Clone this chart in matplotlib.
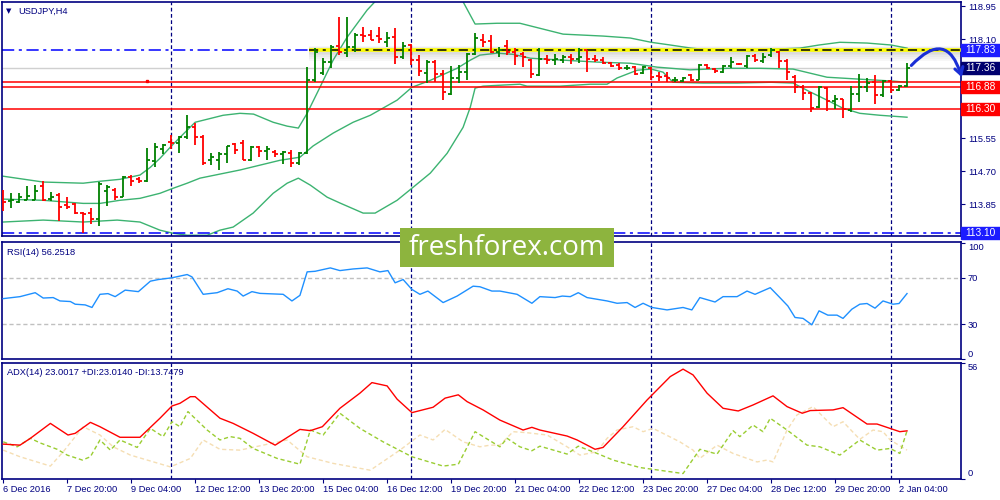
import matplotlib
matplotlib.use("Agg")
import matplotlib.pyplot as plt
import matplotlib.transforms as mtransforms
from matplotlib.patches import Rectangle
import numpy as np

# ---- price bars (USDJPY H4) ----
opens = [114.00, 113.93, 113.90, 113.96, 113.96, 114.31, 113.98, 114.09, 113.82, 113.85,
         113.61, 113.61, 113.46, 114.19, 114.21, 114.04, 114.54, 114.49, 114.45, 114.96,
         115.28, 115.45, 115.43, 115.57, 115.83, 115.57, 115.00, 115.00, 115.14, 115.40,
         115.43, 114.98, 115.31, 115.22, 115.20, 115.14, 115.17, 114.90, 115.17, 117.04,
         117.23, 117.52, 117.92, 117.75, 117.90, 118.20, 118.20, 118.18, 118.03, 118.16,
         117.63, 117.95, 117.56, 117.22, 117.52, 117.20, 116.70, 117.09, 117.26, 117.71,
         118.07, 118.06, 117.77, 117.92, 117.77, 117.71, 117.56, 117.17, 117.60, 117.56,
         117.56, 117.64, 117.60, 117.82, 117.60, 117.56, 117.49, 117.43, 117.35, 117.39,
         117.22, 117.37, 117.16, 117.15, 117.04, 117.03, 117.17, 117.06, 117.43, 117.32,
         117.26, 117.40, 117.47, 117.40, 117.66, 117.54, 117.69, 117.77, 117.54, 117.13,
         116.87, 116.72, 116.36, 116.83, 116.51, 116.55, 116.27, 116.70, 116.86, 117.00,
         116.66, 117.03, 116.79, 116.89]
highs = [114.21, 114.13, 114.13, 114.31, 114.34, 114.44, 114.16, 114.13, 114.03, 113.88,
         113.65, 113.75, 114.42, 114.34, 114.26, 114.57, 114.60, 114.54, 115.29, 115.42,
         115.39, 115.63, 115.60, 116.14, 115.94, 115.63, 115.17, 115.20, 115.36, 115.43,
         115.50, 115.36, 115.34, 115.36, 115.24, 115.22, 115.24, 115.20, 117.39, 117.86,
         117.61, 117.95, 118.67, 118.66, 118.25, 118.42, 118.33, 118.42, 118.29, 118.40,
         118.03, 117.97, 117.69, 117.56, 117.56, 117.30, 117.40, 117.43, 117.75, 118.25,
         118.23, 118.20, 117.90, 118.07, 117.86, 117.77, 117.60, 117.86, 117.69, 117.73,
         117.69, 117.73, 117.88, 117.83, 117.69, 117.65, 117.52, 117.49, 117.43, 117.40,
         117.40, 117.39, 117.26, 117.26, 117.13, 117.13, 117.20, 117.47, 117.47, 117.37,
         117.43, 117.63, 117.49, 117.69, 117.73, 117.75, 117.86, 117.80, 117.58, 117.17,
         116.91, 116.74, 116.89, 116.86, 116.66, 116.57, 116.89, 117.20, 117.11, 117.17,
         117.06, 117.06, 116.91, 117.49]
lows = [113.67, 113.75, 113.88, 113.95, 113.95, 113.94, 113.94, 113.42, 113.72, 113.59,
        113.11, 113.34, 113.29, 113.80, 113.95, 114.03, 114.31, 114.40, 114.42, 114.81,
        115.15, 115.26, 115.17, 115.54, 115.37, 114.87, 114.86, 114.74, 114.91, 115.13,
        114.98, 114.96, 115.07, 115.00, 115.07, 114.88, 114.81, 114.86, 115.14, 117.00,
        117.17, 117.35, 117.69, 117.64, 117.77, 118.03, 118.07, 118.00, 117.90, 117.47,
        117.60, 117.43, 117.15, 116.97, 117.00, 116.53, 116.66, 116.97, 117.04, 117.69,
        117.89, 117.75, 117.64, 117.69, 117.43, 117.39, 117.11, 117.15, 117.47, 117.43,
        117.49, 117.47, 117.49, 117.26, 117.52, 117.46, 117.39, 117.30, 117.30, 117.17,
        117.20, 117.04, 117.03, 117.00, 117.00, 117.00, 117.03, 117.04, 117.32, 117.22,
        117.23, 117.37, 117.43, 117.37, 117.52, 117.49, 117.65, 117.37, 117.06, 116.72,
        116.53, 116.23, 116.32, 116.25, 116.29, 116.06, 116.23, 116.48, 116.74, 116.43,
        116.61, 116.72, 116.77, 116.87]
closes = [113.90, 113.95, 114.03, 114.06, 114.19, 113.95, 114.04, 113.78, 113.78, 113.61,
          113.59, 113.46, 114.38, 114.30, 114.04, 114.54, 114.45, 114.45, 114.98, 115.33,
          115.37, 115.43, 115.58, 115.83, 115.57, 114.90, 115.07, 115.14, 115.34, 115.24,
          115.00, 115.33, 115.22, 115.26, 115.14, 115.20, 114.90, 115.17, 117.04, 117.77,
          117.52, 117.90, 117.77, 117.90, 118.20, 118.19, 118.09, 118.10, 118.14, 117.64,
          117.92, 117.56, 117.28, 117.52, 117.20, 116.74, 117.09, 117.26, 117.73, 118.12,
          118.03, 117.77, 117.83, 117.77, 117.66, 117.63, 117.20, 117.60, 117.56, 117.58,
          117.64, 117.60, 117.63, 117.58, 117.56, 117.49, 117.40, 117.35, 117.37, 117.20,
          117.39, 117.13, 117.12, 117.11, 117.06, 117.11, 117.06, 117.43, 117.35, 117.28,
          117.40, 117.52, 117.46, 117.66, 117.56, 117.64, 117.82, 117.54, 117.26, 116.87,
          116.72, 116.34, 116.86, 116.51, 116.57, 116.29, 116.70, 116.86, 116.96, 116.66,
          117.03, 116.80, 116.89, 117.37]

# ---- Bollinger bands (bar index, price) ----
bb_up_x = [0, 5, 10, 12.1, 14.6, 17.1, 18.4, 19.6, 20.9, 22.1, 24, 27.5, 29.6, 31.3, 33.75,
           35.5, 36.9, 38, 39.6, 41.25, 43, 45.5, 48, 51, 54, 57.4, 59, 61.75, 64.6, 70, 75,
           78.4, 81, 83.4, 86, 88.4, 93.4, 96, 99.6, 102, 104.6, 108, 111, 113]
bb_up_y = [114.57, 114.42, 114.39, 114.44, 114.49, 114.60, 114.80, 115.03, 115.32, 115.57,
           115.96, 116.14, 116.19, 116.17, 115.96, 115.86, 115.81, 116.19, 116.86, 117.56,
           118.15, 118.85, 119.40, 119.60, 119.50, 119.10, 118.49, 118.51, 118.51, 118.23,
           118.18, 118.13, 118.02, 117.95, 117.87, 117.82, 117.79, 117.84, 117.87, 117.95,
           118.02, 118.00, 117.95, 117.87]
bb_mid_x = [0, 5, 10, 12.1, 14.6, 17.1, 19.6, 21.25, 23, 24.6, 29.6, 34.6, 37.1, 38.75, 41.25,
            43.75, 45.9, 49.25, 51.1, 53.4, 56.75, 58.4, 59.6, 61.75, 63.75, 65.9, 70, 74.25,
            78.4, 81.75, 85.9, 90.5, 94.6, 98.75, 103, 107.1, 111.25, 113]
bb_mid_y = [113.98, 113.95, 113.87, 113.87, 113.95, 114.00, 114.13, 114.26, 114.39, 114.52,
            114.73, 114.98, 115.06, 115.35, 115.68, 115.96, 116.14, 116.53, 116.86, 117.04,
            117.35, 117.56, 117.69, 117.74, 117.71, 117.61, 117.56, 117.51, 117.48, 117.38,
            117.31, 117.35, 117.35, 117.33, 117.12, 117.07, 117.02, 116.99]
bb_low_x = [0, 5, 10, 14.25, 17.1, 19.6, 21.25, 23, 25.5, 27.1, 28.75, 31.25, 33.75, 35.5,
            36.9, 38.4, 40.5, 42.1, 45, 46.5, 49.25, 51.1, 53.4, 55.5, 57.5, 58.4, 59, 60,
            61.75, 64.6, 65.5, 69.6, 73.4, 75.5, 76.75, 79.25, 81, 82.5, 83.75, 87.5, 91.75,
            96, 98.75, 100.9, 103, 105, 107.1, 109.6, 113]
bb_low_y = [113.39, 113.44, 113.39, 113.44, 113.39, 113.18, 113.10, 113.05, 113.05, 113.18,
            113.26, 113.62, 114.13, 114.39, 114.52, 114.34, 114.03, 113.88, 113.62, 113.62,
            113.95, 114.26, 114.65, 115.16, 115.83, 116.35, 116.84, 116.89, 116.91, 116.94,
            116.89, 116.89, 116.94, 116.94, 117.10, 117.30, 117.33, 117.25, 116.99, 116.97,
            116.97, 116.99, 116.97, 116.74, 116.53, 116.32, 116.19, 116.14, 116.09]

# ---- RSI(14) ----
rsi_x = [0, 2.1, 4, 5, 6.25, 7.1, 8.4, 9, 10.25, 11.1, 12.1, 13.1, 14, 15.25, 16.9, 18.4, 19.4,
         21.1, 23, 23.6, 25, 26.75, 28.1, 29.25, 30, 31.1, 32.1, 35, 36.1, 37.1, 38, 39, 40.9,
         42.1, 43.75, 45.5, 47.1, 48.1, 49, 50, 51.1, 52.1, 53.1, 55, 56.75, 58.75, 59.6, 61.1,
         62.1, 64.25, 66.1, 67.1, 69, 69.9, 70.9, 71.9, 73, 75.5, 76.75, 78, 79, 80, 81.1, 83,
         85, 86.1, 87.1, 89, 90, 91.75, 93, 94, 95.9, 97.1, 98.1, 99, 100, 101.1, 102, 103.1,
         104.25, 105, 106.1, 107.1, 108, 109, 110, 111.25, 112, 113]
rsi_v = [51.9, 53.6, 57.0, 52.4, 52.8, 49.9, 49.4, 47.1, 46.5, 44.3, 55.6, 56.2, 53.6, 59.2,
         57.9, 66.9, 68.3, 69.8, 72.6, 70.6, 55.6, 57.0, 60.4, 58.4, 54.1, 57.9, 56.4, 55.6,
         49.9, 54.7, 74.9, 75.4, 78.3, 76.0, 77.4, 78.3, 74.9, 76.0, 65.5, 68.3, 59.8, 55.6,
         58.4, 48.5, 54.1, 62.6, 62.1, 58.4, 58.4, 55.6, 47.9, 53.6, 52.8, 54.1, 53.6, 57.0,
         52.8, 49.9, 47.9, 48.5, 44.3, 47.9, 44.3, 42.2, 44.3, 42.2, 52.8, 49.0, 53.6, 53.6,
         58.4, 55.6, 61.3, 52.8, 45.6, 35.7, 34.9, 29.4, 41.4, 37.7, 37.7, 34.9, 42.8, 47.1,
         47.7, 43.7, 49.9, 47.1, 47.7, 56.25]

# ---- ADX(14) ----
adx_x = [0, 2.1, 3.4, 5.9, 8.1, 9, 10.9, 12.1, 14.6, 17.1, 19.6, 21.1, 22.1, 23.4, 24, 27.1,
         28.75, 31.25, 34, 37.1, 38.4, 39.9, 42.1, 44.6, 46.1, 48, 49.25, 51.1, 53.75, 55.25,
         56.9, 58, 60, 62.1, 65, 66.1, 67.1, 70.5, 71.75, 74, 75, 77.5, 80.5, 83.4, 85, 86.25,
         88, 90, 91.9, 93.75, 96.25, 98, 99.9, 100.9, 103.75, 105, 108, 109.25, 112.1, 113]
adx_v = [16.6, 16.1, 19.4, 26.6, 21.0, 21.8, 27.1, 25.0, 19.9, 19.9, 29.1, 35.0, 36.3, 39.5,
         39.5, 29.1, 26.6, 21.8, 16.1, 23.7, 23.1, 25.0, 33.9, 41.2, 46.3, 44.7, 38.3, 31.8,
         34.4, 38.8, 40.4, 37.1, 33.1, 28.2, 23.4, 24.7, 23.4, 20.5, 18.6, 14.1, 15.0, 25.0,
         37.9, 49.2, 52.8, 50.0, 41.2, 33.9, 32.6, 35.5, 39.9, 34.7, 31.5, 32.8, 33.1, 34.2,
         26.3, 26.3, 22.6, 23.0]
pdi_x = [0, 1.75, 3.4, 4.6, 6.75, 8, 9.9, 10.9, 12.1, 13.4, 14.6, 16.75, 18.4, 20, 21.1, 22.1,
         23.1, 25.5, 27.1, 28.4, 29.6, 31.25, 34.25, 37.1, 38.4, 40, 42.1, 44.6, 47.5, 51.1,
         55, 56.9, 59, 62.1, 63, 64.6, 66.1, 67.1, 70.5, 71.9, 73.75, 76.25, 79.6, 85, 87.1,
         89.25, 91.25, 92.1, 93.75, 95, 95.9, 98, 100.5, 102.1, 104.6, 107.1, 109.25, 110.9,
         112.1, 113]
pdi_v = [17.7, 15.3, 19.4, 17.2, 14.1, 11.3, 8.9, 10.5, 18.6, 13.7, 18.6, 15.0, 24.2, 20.2,
         27.4, 25.0, 32.3, 23.4, 18.6, 20.2, 19.4, 14.5, 9.7, 6.9, 23.4, 21.0, 31.5, 24.2,
         17.7, 10.5, 6.0, 6.9, 22.6, 15.3, 19.4, 15.3, 13.4, 15.6, 11.8, 15.6, 12.9, 8.9, 5.3,
         2.4, 14.1, 11.8, 23.1, 20.2, 25.8, 22.6, 29.1, 23.4, 16.1, 15.3, 11.3, 18.6, 13.7,
         14.5, 12.1, 23.0]
mdi_x = [0, 2.1, 5.9, 7.5, 10, 12.1, 13.75, 15.9, 20.9, 23.4, 25, 27.1, 29.6, 35.5, 38, 41.25,
         45.9, 49.6, 52.1, 53.75, 55.25, 57.5, 59.6, 60.9, 62.1, 63.75, 65.5, 68, 70.5, 72.1,
         74.25, 75.5, 76.75, 78.75, 80, 81.25, 84.6, 86.25, 87.1, 89.25, 91.25, 94.25, 95.5,
         96.25, 98, 99.25, 101.25, 103.75, 105, 107.1, 108.75, 110, 110.9, 113]
mdi_v = [13.7, 10.5, 6.0, 12.9, 25.0, 21.0, 15.3, 11.3, 5.6, 9.7, 18.6, 14.1, 13.7, 18.6, 10.5,
         7.3, 4.0, 13.7, 21.0, 18.6, 23.7, 17.7, 15.3, 16.1, 16.1, 22.6, 22.1, 21.0, 15.3, 11.3,
         12.9, 19.4, 23.4, 25.0, 22.6, 24.2, 17.7, 13.7, 9.7, 16.1, 12.1, 8.0, 8.9, 8.0, 23.4,
         30.7, 34.7, 25.0, 27.4, 18.9, 23.4, 22.6, 18.6, 13.7]

# ---- levels, labels ----
resistance = 117.83
support_low = 113.10
red_levels = [117.00, 116.88, 116.30]
bid = 117.36
zone_start_bar = 38.25
line_anchor_bar = 18
week_starts = [21, 51, 81, 111]
main_ticks = [118.95, 118.10, 117.25, 116.40, 115.55, 114.70, 113.85]
hidden_ticks = [117.25, 116.40]   # covered by the price tags in the terminal
time_labels = ["6 Dec 2016", "7 Dec 20:00", "9 Dec 04:00", "12 Dec 12:00", "13 Dec 20:00",
               "15 Dec 04:00", "16 Dec 12:00", "19 Dec 20:00", "21 Dec 04:00", "22 Dec 12:00",
               "23 Dec 20:00", "27 Dec 04:00", "28 Dec 12:00", "29 Dec 20:00", "2 Jan 04:00"]
arrow_from = (113.3, 117.37)
arrow_to = (119.95, 117.05)

NAVY = "#000080"
GREEN = "#008000"
RED = "#FF0000"
BB = "#3CB371"
FS = 6.7

plt.rcParams['font.family'] = ['Liberation Sans', 'DejaVu Sans']

fig = plt.figure(figsize=(10, 5), dpi=100)
ax1 = fig.add_axes([0.002, 0.528, 0.959, 0.4674])
ax2 = fig.add_axes([0.002, 0.282, 0.959, 0.235])
ax3 = fig.add_axes([0.002, 0.043, 0.959, 0.232])

x_right = 119.75
for ax in (ax1, ax2, ax3):
    ax.set_xlim(-0.15, x_right)
    for s in ax.spines.values():
        s.set_color(NAVY)
        s.set_linewidth(1.2)
    ax.yaxis.tick_right()
    ax.tick_params(axis='y', colors=NAVY, labelsize=FS, length=3, pad=2, width=0.8)
    ax.tick_params(axis='y', labelcolor=NAVY)
    for wb in week_starts:
        ax.axvline(wb, color=NAVY, ls=(0, (3, 2)), lw=0.9, zorder=1)
ax1.set_xticks([])
ax2.set_xticks([])

# ---- main panel ----
o, h, l, c = map(np.array, (opens, highs, lows, closes))
xb = np.arange(len(c))
ax1.set_ylim(113.03, 119.05)

ax1.plot(bb_up_x, bb_up_y, color=BB, lw=1, zorder=2)
ax1.plot(bb_mid_x, bb_mid_y, color=BB, lw=1, zorder=2)
ax1.plot(bb_low_x, bb_low_y, color=BB, lw=1, zorder=2)

ax1.axhline(bid, color="#D0D0D0", lw=1, zorder=1)
for lv in red_levels:
    ax1.axhline(lv, color=RED, lw=1.1, zorder=2)
ax1.plot(line_anchor_bar, red_levels[0] + 0.01, 's', color=RED, ms=2, zorder=3)
ax1.axhline(support_low, color="#0000FF", ls=(0, (8, 3, 2, 3)), lw=1.1, zorder=2)
ax1.axhline(resistance, color="#0000FF", ls=(0, (8, 3, 2, 3)), lw=1.1, zorder=2)

# highlighted resistance zone with soft shadow
zx = [zone_start_bar, x_right]
for k in range(1, 7):
    ax1.fill_between(zx, resistance - 0.05 * k, resistance + 0.015 * k,
                     color="#808080", alpha=0.06, lw=0, zorder=2)
ax1.plot(zx, [resistance, resistance], color="#FFFF00", lw=2.6, zorder=3, solid_capstyle='butt')
ax1.plot(zx, [resistance, resistance], color="black", lw=1.1, ls=(0, (6, 3, 2, 3)), zorder=3)

up = c >= o
for mask, col in ((up, GREEN), (~up, RED)):
    xs = xb[mask]
    ax1.vlines(xs, l[mask], h[mask], color=col, lw=1.3, zorder=4)
    ax1.hlines(o[mask], xs - 0.4, xs, color=col, lw=1.3, zorder=4)
    ax1.hlines(c[mask], xs, xs + 0.4, color=col, lw=1.3, zorder=4)

ax1.set_yticks(main_ticks)
ax1.set_yticklabels(["" if t in hidden_ticks else f"{t:.2f}" for t in main_ticks])

# price tags on the right axis
trans = mtransforms.blended_transform_factory(ax1.transAxes, ax1.transData)
tag_h = 0.31
tags = [(red_levels[1], RED), (red_levels[2], RED),
        (resistance, "#1C1CFF"), (bid, "#00006E"), (support_low, "#1C1CFF")]
for price, col in tags:
    ax1.add_patch(Rectangle((1.0, price - tag_h / 2), 0.042, tag_h, transform=trans,
                            facecolor=col, edgecolor=col, clip_on=False, zorder=10))
    ax1.text(1.004, price, f"{price:.2f}", transform=trans, color="white", fontsize=FS + 0.6,
             va="center", ha="left", clip_on=False, zorder=11)

ax1.text(0.0073, 0.963, "\u25BC", transform=ax1.transAxes, color=NAVY, fontsize=5,
         va="center", ha="center", family=['DejaVu Sans'])
ax1.text(0.0167, 0.963, "USDJPY,H4", transform=ax1.transAxes, color=NAVY, fontsize=FS,
         va="center", ha="left")

ann = ax1.annotate("", xy=arrow_to, xytext=arrow_from, annotation_clip=False,
                   arrowprops=dict(arrowstyle="->,head_length=0.5,head_width=0.3",
                                   connectionstyle="arc3,rad=-0.9", color="#1A2FD6", lw=2.2))
ann.arrow_patch.set_clip_on(False)
ann.set_zorder(12)

# ---- RSI panel ----
ax2.set_ylim(0, 101)
ax2.plot(rsi_x, rsi_v, color="#1E90FF", lw=1, zorder=3)
for lv in (30, 70):
    ax2.axhline(lv, color="#C0C0C0", ls=(0, (3, 2)), lw=1, zorder=1)
ax2.set_yticks([0, 30, 70, 100])
ax2.set_yticklabels(["0", "30", "70", "100"])
lbls = ax2.get_yticklabels()
lbls[0].set_va("bottom")
lbls[-1].set_va("top")
ax2.text(0.005, 0.91, "RSI(14) 56.2518", transform=ax2.transAxes, color=NAVY, fontsize=FS,
         va="center", ha="left")

# ---- ADX panel ----
ax3.set_ylim(0, 56)
ax3.plot(mdi_x, mdi_v, color="#F5DEB3", lw=1, ls=(0, (3, 2)), zorder=2)
ax3.plot(pdi_x, pdi_v, color="#9ACD32", lw=1, ls=(0, (3, 2)), zorder=3)
ax3.plot(adx_x, adx_v, color=RED, lw=1, zorder=4)
ax3.set_yticks([0, 56])
ax3.set_yticklabels(["0", "56"])
lbls = ax3.get_yticklabels()
lbls[0].set_va("bottom")
lbls[-1].set_va("top")
ax3.text(0.005, 0.918, "ADX(14) 23.0017 +DI:23.0140 -DI:13.7479", transform=ax3.transAxes,
         color=NAVY, fontsize=FS, va="center", ha="left")

ax3.set_xticks(np.arange(len(time_labels)) * 8)
ax3.set_xticklabels(time_labels, ha="left")
ax3.tick_params(axis='x', colors=NAVY, labelcolor=NAVY, labelsize=FS, length=3, pad=2, width=0.8)

# ---- watermark ----
fig.patches.append(Rectangle((0.400, 0.466), 0.214, 0.078, transform=fig.transFigure,
                             facecolor="#8DB43E", edgecolor="none", zorder=20))
fig.text(0.507, 0.504, "freshforex.com", color="white", fontsize=20, family=["Open Sans"],
         ha="center", va="center", zorder=21)

fig.savefig("out.png", dpi=100)
